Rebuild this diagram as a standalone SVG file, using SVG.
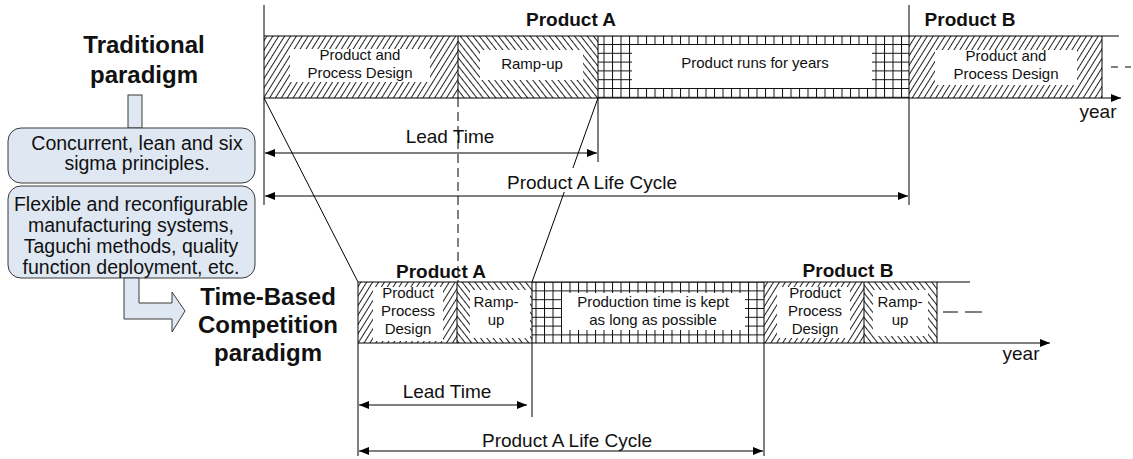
<svg xmlns="http://www.w3.org/2000/svg" width="1133" height="459" viewBox="0 0 1133 459">
  <style>
    text { font-family: "Liberation Sans", Arial, sans-serif; fill: #111; }
    .hd { font-size: 24px; font-weight: bold; text-anchor: middle; }
    .pr { font-size: 19px; font-weight: bold; text-anchor: middle; }
    .bx { font-size: 15px; text-anchor: middle; }
    .lb { font-size: 19px; text-anchor: middle; }
    .nt { font-size: 19.5px; text-anchor: middle; }
    .ln { stroke: #000; stroke-width: 1; fill: none; }
    .dim { stroke: #000; stroke-width: 1; fill: none; marker-start: url(#ah); marker-end: url(#ah); }
    .ax { stroke: #000; stroke-width: 1; fill: none; marker-end: url(#ah); }
    .dash { stroke: #000; stroke-width: 1; fill: none; stroke-dasharray: 9 5; }
    .note { fill: #dfe7f2; stroke: #3a3a3a; stroke-width: 1; }
    .wh { fill: #fff; stroke: none; }
    .hf { fill: url(#hatchF); stroke: none; }
    .hb { fill: url(#hatchB); stroke: none; }
    .gr { fill: url(#grid); stroke: none; }
  </style>
  <defs>
    <pattern id="hatchF" width="5" height="10" patternUnits="userSpaceOnUse" patternTransform="rotate(32)">
      <rect width="5" height="10" fill="#fff"/>
      <line x1="0.5" y1="0" x2="0.5" y2="10" stroke="#222" stroke-width="1"/>
    </pattern>
    <pattern id="hatchB" width="5" height="10" patternUnits="userSpaceOnUse" patternTransform="rotate(-38)">
      <rect width="5" height="10" fill="#fff"/>
      <line x1="0.5" y1="0" x2="0.5" y2="10" stroke="#222" stroke-width="1"/>
    </pattern>
    <pattern id="grid" width="8.5" height="8.8" patternUnits="userSpaceOnUse">
      <rect width="8.5" height="8.8" fill="#fff"/>
      <path d="M0.5 0V8.8M0 0.5H8.5" stroke="#111" stroke-width="1"/>
    </pattern>
    <marker id="ah" viewBox="0 0 10 8" refX="10" refY="4" markerWidth="10" markerHeight="8" markerUnits="userSpaceOnUse" orient="auto-start-reverse">
      <path d="M0,0L10,4L0,8z" fill="#000"/>
    </marker>
  </defs>

  <!-- left column: paradigms and enabling methods -->
  <g id="traditional">
    <text class="hd" x="144" y="53">Traditional</text>
    <text class="hd" x="144" y="83">paradigm</text>
  </g>
  <g id="link-bar">
    <rect class="note" x="128" y="95" width="14" height="33"/>
  </g>
  <g id="methods-1">
    <rect class="note" x="8" y="128" width="247" height="55" rx="13"/>
    <text class="nt" x="137" y="150">Concurrent, lean and six</text>
    <text class="nt" x="137" y="170">sigma principles.</text>
  </g>
  <g id="methods-2">
    <rect class="note" x="8" y="186" width="247" height="92" rx="13"/>
    <text class="nt" x="131" y="211">Flexible and reconfigurable</text>
    <text class="nt" x="131" y="232">manufacturing systems,</text>
    <text class="nt" x="131" y="253">Taguchi methods, quality</text>
    <text class="nt" x="131" y="274">function deployment, etc.</text>
  </g>
  <g id="bent-arrow">
    <path class="note" d="M124 278H139V303H172V292L185 311L172 332V319H124Z"/>
  </g>
  <g id="tbc">
    <text class="hd" x="268" y="305">Time-Based</text>
    <text class="hd" x="268" y="333">Competition</text>
    <text class="hd" x="268" y="361">paradigm</text>
  </g>

  <!-- upper timeline -->
  <g id="top-design-a">
    <rect class="hf" x="264" y="36" width="194" height="62"/>
    <rect class="wh" x="290" y="49" width="140" height="33"/>
    <text class="bx" x="360" y="60">Product and</text>
    <text class="bx" x="360" y="78">Process Design</text>
  </g>
  <g id="top-ramp-a">
    <rect class="hb" x="458" y="36" width="140" height="62"/>
    <rect class="wh" x="480" y="50" width="103" height="30"/>
    <text class="bx" x="532" y="69">Ramp-up</text>
  </g>
  <g id="top-run-a">
    <rect class="gr" x="598" y="36" width="311" height="62"/>
    <rect class="wh" x="632" y="45" width="240" height="43"/>
    <text class="bx" x="755" y="68">Product runs for years</text>
  </g>
  <g id="top-design-b">
    <rect class="hf" x="909" y="36" width="193" height="62"/>
    <rect class="wh" x="935" y="50" width="142" height="35"/>
    <text class="bx" x="1006" y="61">Product and</text>
    <text class="bx" x="1006" y="79">Process Design</text>
  </g>
  <g id="top-labels">
    <text class="pr" x="571" y="26">Product A</text>
    <text class="pr" x="970" y="26">Product B</text>
    <text class="lb" x="1098" y="118">year</text>
  </g>

  <!-- lower timeline -->
  <g id="bot-design-a">
    <rect class="hf" x="358" y="282" width="99" height="61"/>
    <rect class="wh" x="373" y="287" width="70" height="54"/>
    <text class="bx" x="408" y="298">Product</text>
    <text class="bx" x="408" y="316">Process</text>
    <text class="bx" x="408" y="334">Design</text>
  </g>
  <g id="bot-ramp-a">
    <rect class="hb" x="457" y="282" width="75" height="61"/>
    <rect class="wh" x="470" y="290" width="60" height="48"/>
    <text class="bx" x="496" y="307">Ramp-</text>
    <text class="bx" x="496" y="325">up</text>
  </g>
  <g id="bot-run-a">
    <rect class="gr" x="532" y="282" width="232" height="61"/>
    <rect class="wh" x="562" y="293" width="183" height="37"/>
    <text class="bx" x="653" y="307">Production time is kept</text>
    <text class="bx" x="653" y="325">as long as possible</text>
  </g>
  <g id="bot-design-b">
    <rect class="hf" x="764" y="282" width="100" height="61"/>
    <rect class="wh" x="777" y="287" width="73" height="51"/>
    <text class="bx" x="815" y="298">Product</text>
    <text class="bx" x="815" y="316">Process</text>
    <text class="bx" x="815" y="334">Design</text>
  </g>
  <g id="bot-ramp-b">
    <rect class="hb" x="864" y="282" width="73" height="61"/>
    <rect class="wh" x="873" y="290" width="55" height="46"/>
    <text class="bx" x="900" y="307">Ramp-</text>
    <text class="bx" x="900" y="325">up</text>
  </g>
  <g id="bot-labels">
    <text class="pr" x="441" y="278">Product A</text>
    <text class="pr" x="848" y="277">Product B</text>
    <text class="lb" x="1021" y="360">year</text>
  </g>

  <!-- axes, boundaries and dimension arrows -->
  <g id="connectors">
    <line class="ln" x1="264" y1="5" x2="264" y2="205"/>
    <line class="ln" x1="909" y1="5" x2="909" y2="205"/>
    <line class="ln" x1="264" y1="36" x2="1119" y2="36"/>
    <line class="ax" x1="264" y1="98" x2="1121" y2="98"/>
    <line class="ln" x1="458" y1="36" x2="458" y2="98"/>
    <line class="ln" x1="598" y1="36" x2="598" y2="162"/>
    <line class="ln" x1="1102" y1="36" x2="1102" y2="98"/>
    <line class="ln" x1="1111" y1="67" x2="1118" y2="67"/>
    <line class="ln" x1="1125" y1="67" x2="1131" y2="67"/>
    <line class="dash" x1="458" y1="98" x2="458" y2="282"/>
    <line class="ln" x1="264" y1="98" x2="358" y2="282"/>
    <line class="ln" x1="598" y1="98" x2="532" y2="282"/>
    <line class="dim" x1="265" y1="153" x2="597" y2="153"/>
    <text class="lb" x="450" y="143">Lead Time</text>
    <rect class="wh" x="504" y="168" width="176" height="24"/>
    <text class="lb" x="592" y="189">Product A Life Cycle</text>
    <line class="dim" x1="265" y1="196" x2="908" y2="196"/>

    <line class="ln" x1="358" y1="282" x2="970" y2="282"/>
    <line class="ax" x1="358" y1="343" x2="1050" y2="343"/>
    <line class="ln" x1="358" y1="282" x2="358" y2="456"/>
    <line class="ln" x1="457" y1="282" x2="457" y2="343"/>
    <line class="ln" x1="532" y1="282" x2="532" y2="417"/>
    <line class="ln" x1="764" y1="282" x2="764" y2="456"/>
    <line class="ln" x1="864" y1="282" x2="864" y2="343"/>
    <line class="ln" x1="937" y1="282" x2="937" y2="343"/>
    <line class="ln" x1="943" y1="312" x2="958" y2="312"/>
    <line class="ln" x1="965" y1="312" x2="982" y2="312"/>
    <line class="dim" x1="359" y1="405" x2="527" y2="405"/>
    <text class="lb" x="447" y="398">Lead Time</text>
    <text class="lb" x="567" y="447">Product A Life Cycle</text>
    <line class="dim" x1="359" y1="451" x2="763" y2="451"/>
  </g>
</svg>
